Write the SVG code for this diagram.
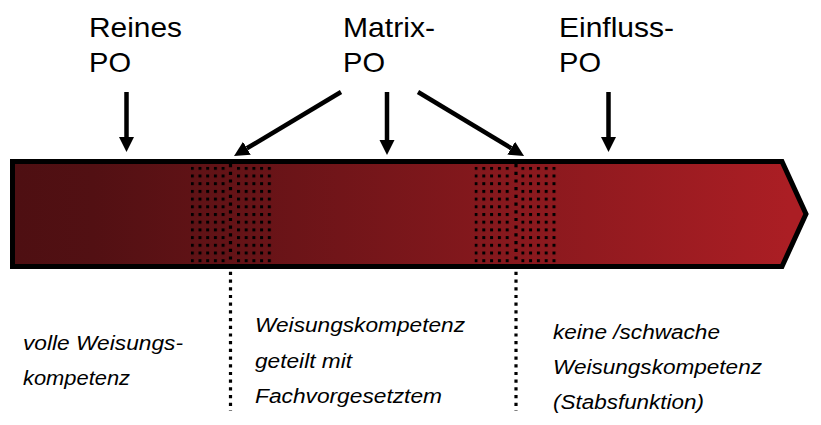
<svg xmlns="http://www.w3.org/2000/svg" width="821" height="425" viewBox="0 0 821 425">
  <defs>
    <linearGradient id="barGrad" gradientUnits="userSpaceOnUse" x1="15" y1="0" x2="790" y2="0">
      <stop offset="0" stop-color="#4e0f12"/>
      <stop offset="0.1" stop-color="#521013"/>
      <stop offset="1" stop-color="#ab1e24"/>
    </linearGradient>
    <pattern id="dots" patternUnits="userSpaceOnUse" x="190.8" y="166.8" width="7.7" height="7.7">
      <rect x="0" y="0" width="3" height="3" fill="#000"/>
    </pattern>
    <pattern id="dots2" patternUnits="userSpaceOnUse" x="474.5" y="166.8" width="7.8" height="7.7">
      <rect x="0" y="0" width="3" height="3" fill="#000"/>
    </pattern>
    <marker id="head" markerUnits="userSpaceOnUse" markerWidth="16" markerHeight="16" refX="0" refY="7.5" orient="auto">
      <path d="M0,0 L15,7.5 L0,15 Z" fill="#000"/>
    </marker>
    <style>
      .lbl { font-family: "Liberation Sans", Arial, sans-serif; font-size: 27.5px; fill: #000; }
      .desc { font-family: "Liberation Sans", Arial, sans-serif; font-size: 20.5px; font-style: italic; fill: #000; }
      .arrow { stroke: #000; stroke-width: 4.5; fill: none; marker-end: url(#head); }
      .dotline { stroke: #000; stroke-width: 3.2; stroke-dasharray: 3.2 4.5; fill: none; }
    </style>
  </defs>

  <g id="bar">
    <path d="M12.5,161.5 H782 L806,214 L782,266.5 H12.5 Z" fill="url(#barGrad)" stroke="#000" stroke-width="5" stroke-linejoin="miter"/>
  </g>

  <g id="zone-left-boundary">
    <rect x="190.8" y="166.8" width="36" height="97" fill="url(#dots)"/>
    <rect x="236.8" y="166.8" width="36" height="97" fill="url(#dots)"/>
    <line class="dotline" x1="230.5" y1="164" x2="230.5" y2="411"/>
  </g>

  <g id="zone-right-boundary">
    <rect x="474.5" y="166.8" width="37" height="97" fill="url(#dots2)"/>
    <rect x="521.2" y="166.8" width="37" height="97" fill="url(#dots2)"/>
    <line class="dotline" x1="516" y1="164" x2="516" y2="411"/>
  </g>

  <g id="node-reines">
    <text class="lbl" x="89" y="37" textLength="93" lengthAdjust="spacingAndGlyphs">Reines</text>
    <text class="lbl" x="89" y="72" textLength="42" lengthAdjust="spacingAndGlyphs">PO</text>
  </g>

  <g id="node-matrix">
    <text class="lbl" x="343" y="37" textLength="92" lengthAdjust="spacingAndGlyphs">Matrix-</text>
    <text class="lbl" x="343" y="72" textLength="42" lengthAdjust="spacingAndGlyphs">PO</text>
  </g>

  <g id="node-einfluss">
    <text class="lbl" x="559" y="37" textLength="115" lengthAdjust="spacingAndGlyphs">Einfluss-</text>
    <text class="lbl" x="559" y="72" textLength="42" lengthAdjust="spacingAndGlyphs">PO</text>
  </g>

  <g id="connectors">
    <line class="arrow" x1="126.5" y1="92" x2="126.5" y2="137"/>
    <line class="arrow" x1="341" y1="92" x2="246.9" y2="148.3"/>
    <line class="arrow" x1="387" y1="92" x2="387" y2="140"/>
    <line class="arrow" x1="418" y1="92" x2="511.2" y2="148.2"/>
    <line class="arrow" x1="608.5" y1="92" x2="608.5" y2="137"/>
  </g>

  <g id="text-left">
    <text class="desc" x="23" y="350" textLength="160" lengthAdjust="spacingAndGlyphs">volle Weisungs-</text>
    <text class="desc" x="23" y="385" textLength="107" lengthAdjust="spacingAndGlyphs">kompetenz</text>
  </g>

  <g id="text-middle">
    <text class="desc" x="255" y="332" textLength="210" lengthAdjust="spacingAndGlyphs">Weisungskompetenz</text>
    <text class="desc" x="255" y="368" textLength="97" lengthAdjust="spacingAndGlyphs">geteilt mit</text>
    <text class="desc" x="255" y="403" textLength="187" lengthAdjust="spacingAndGlyphs">Fachvorgesetztem</text>
  </g>

  <g id="text-right">
    <text class="desc" x="553" y="339" textLength="167" lengthAdjust="spacingAndGlyphs">keine /schwache</text>
    <text class="desc" x="553" y="374" textLength="209" lengthAdjust="spacingAndGlyphs">Weisungskompetenz</text>
    <text class="desc" x="553" y="409" textLength="151" lengthAdjust="spacingAndGlyphs">(Stabsfunktion)</text>
  </g>
</svg>
